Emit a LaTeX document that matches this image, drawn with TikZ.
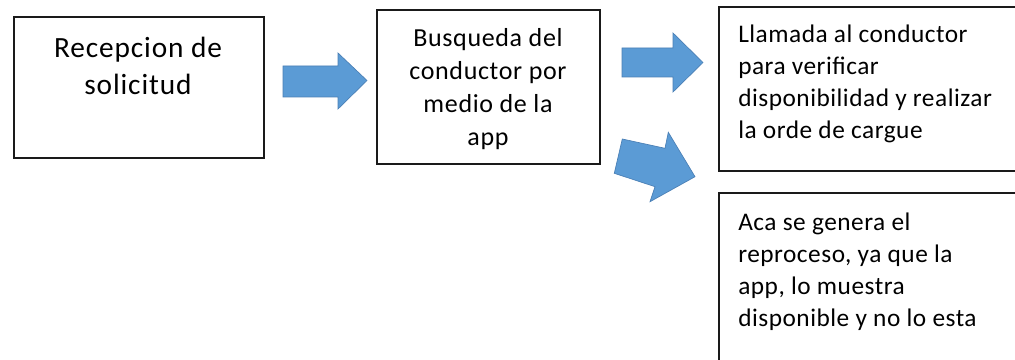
\documentclass[tikz,border=0pt]{standalone}
\usepackage{fontspec}
\setmainfont{Carlito}
\newfontfamily\wideA[LetterSpace=3]{Carlito}
\newfontfamily\wideB[LetterSpace=2.5]{Carlito}
\newfontfamily\wideC[LetterSpace=2]{Carlito}
\definecolor{arrfill}{HTML}{5B9BD5}
\definecolor{arredge}{HTML}{4A7FB5}
\definecolor{boxline}{HTML}{1A1A1A}
\tikzset{
  box/.style={draw=boxline, line width=1.1pt, fill=white},
  blockarrow/.style={fill=arrfill, draw=arredge, line width=0.5pt, line join=miter},
  bigtext/.style={anchor=base, inner sep=0pt, font=\wideA\fontsize{22}{27.5}\selectfont},
  midtext/.style={anchor=base, inner sep=0pt, font=\wideB\fontsize{19.5}{24.75}\selectfont},
  stdtext/.style={anchor=base west, inner sep=0pt, font=\wideC\fontsize{19}{24}\selectfont},
}
\begin{document}
\begin{tikzpicture}[x=0.75pt,y=-0.75pt]
\useasboundingbox (0,0) rectangle (1015,360);
\clip (0,0) rectangle (1015,360);
\fill[white] (0,0) rectangle (1015,360);
% boxes
\draw[box] (14,17) rectangle (264,158);
\draw[box] (377,10) rectangle (600,164);
\draw[box] (719,7) rectangle (1030,171);
\draw[box] (719,193) rectangle (1030,380);
% texts
\node[bigtext] (t1) at (138,57.5) {\begin{tabular}[t]{@{}c@{}}Recepcion de\\solicitud\end{tabular}};
\node[midtext] (t2) at (488,46.7) {\begin{tabular}[t]{@{}c@{}}Busqueda del\\conductor por\\medio de la\\app\end{tabular}};
\node[stdtext] (t3) at (738,43) {\begin{tabular}[t]{@{}l@{}}Llamada al conductor\\para verificar\\disponibilidad y realizar\\la orde de cargue\end{tabular}};
\node[stdtext] (t4) at (738,230) {\begin{tabular}[t]{@{}l@{}}Aca se genera el\\reproceso, ya que la\\app, lo muestra\\disponible y no lo esta\end{tabular}};
% block arrows
\draw[blockarrow] (283,66) -- (338,66) -- (338,53) -- (367,80.5) -- (338,109) -- (338,97) -- (283,97) -- cycle;
\draw[blockarrow] (622,48) -- (673,48) -- (673,33) -- (703,62.5) -- (673,92) -- (673,77) -- (622,77) -- cycle;
\draw[blockarrow] (622.3,139) -- (665,148.3) -- (668.3,132.3) -- (695,176.7) -- (650,201.7) -- (655,186.7) -- (614.3,173.3) -- cycle;
\end{tikzpicture}
\end{document}
